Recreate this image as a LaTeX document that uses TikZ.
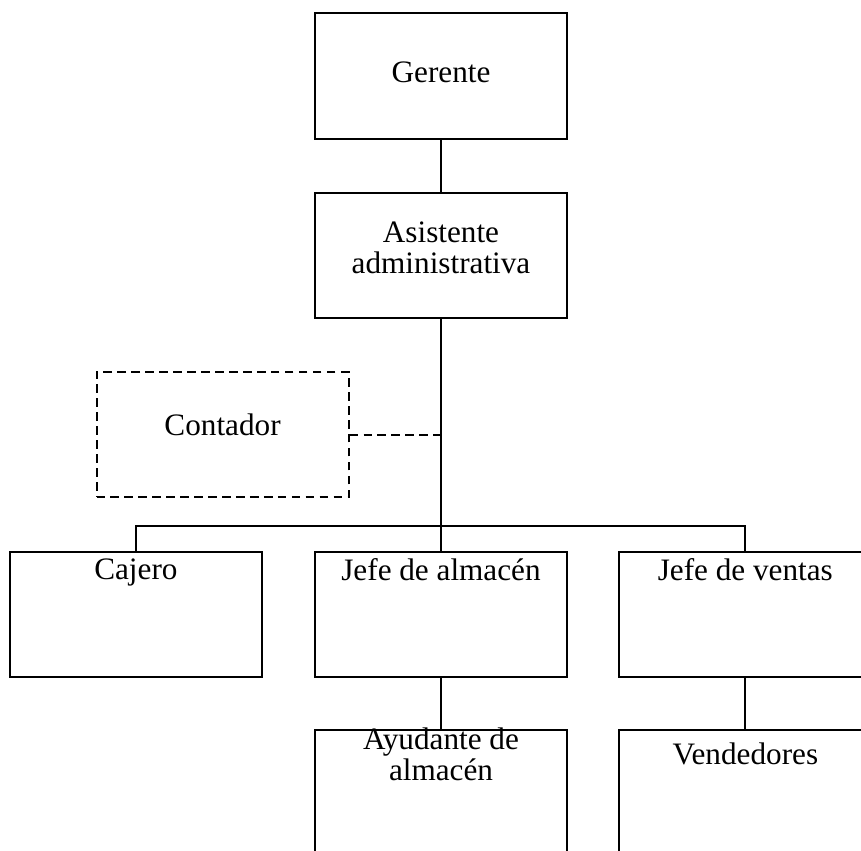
\documentclass[tikz,border=0pt]{standalone}
\usepackage{fontspec}
\setmainfont{Liberation Serif}
\usetikzlibrary{positioning}
\tikzset{
box/.style={draw,
    minimum width=6.67cm,
    minimum height=3.31cm,
    align=center},
dbox/.style={box,
    dash pattern=on 6.5pt off 4pt},
tlabel/.style={anchor=north,
    inner sep=4.9pt,
    align=center},
}

\begin{document}
\begin{tikzpicture}[font=\fontsize{23.5}{23.25}\selectfont, line width=1.5pt]
    \clip (-11.669,2.011) rectangle (11.113,-20.480);

    \node [box, text depth=6pt] (ger) at (0,0) {Gerente};
    \node [box, text depth=12pt, below=1.38cm of ger] (asi) {Asistente\\administrativa};
    \node [dbox, text depth=15pt] (con) at (-5.78,-9.49) {Contador};

    \node [box, below=6.14cm of asi, label={[tlabel]north:Jefe de almacén}] (jal) {};
    \node [box, left=1.35cm of jal, label={[tlabel]north:Cajero}] (caj) {};
    \node [box, right=1.33cm of jal, label={[tlabel]north:Jefe de ventas}] (jve) {};
    \node [box, below=1.35cm of jal, label={[tlabel, inner sep=-1.5pt]north:Ayudante de\\almacén}] (ayu) {};
    \node [box, below=1.35cm of jve, label={[tlabel, inner sep=9.4pt]north:Vendedores}] (ven) {};

    \coordinate [below=5.48cm of asi.south] (bus);

    \draw (ger) -- (asi);
    \draw (asi.south) -- (bus);
    \draw (caj.north) |- (bus) -| (jve.north);
    \draw (bus) -- (jal.north);
    \draw [dash pattern=on 6.5pt off 4pt] (con.east) -- (con.east -| asi.south);

    \draw (jal) -- (ayu);
    \draw (jve) -- (ven);
\end{tikzpicture}
\end{document}
